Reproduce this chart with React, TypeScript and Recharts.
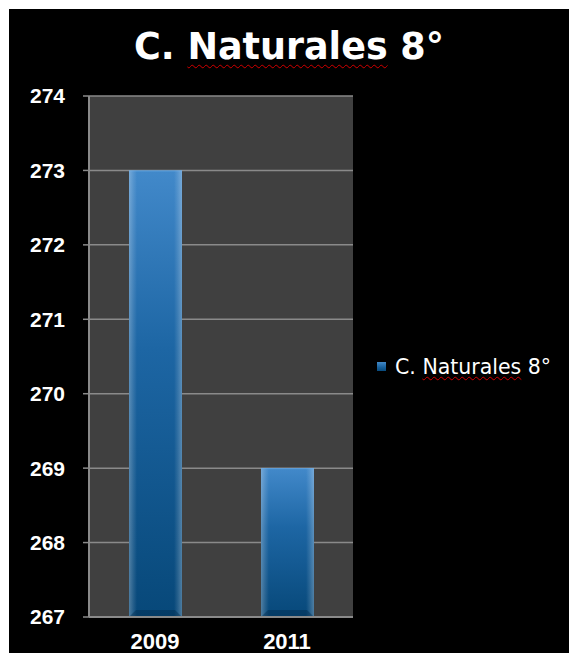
import { Bar, BarChart, CartesianGrid, Legend, XAxis, YAxis } from "recharts";

const years = ["2009", "2011"];
const scores = [273, 269];
const yTicks = [267, 268, 269, 270, 271, 272, 273, 274];
const seriesName = "C. Naturales 8°";
// words the spell checker flagged in the original screenshot
const flaggedWords = ["Naturales"];

const data = years.map((year, i) => ({ year, score: scores[i] }));

const CHART_W = 560;
const CHART_H = 644;
const AXIS_GRAY = "#8a8a8a";

const squiggle = (offset: number) => ({
  textDecorationLine: "underline",
  textDecorationStyle: "wavy" as const,
  textDecorationColor: "#d40000",
  textDecorationThickness: "1px",
  textUnderlineOffset: `${offset}px`,
});

function SpellText({ text, offset }: { text: string; offset: number }) {
  const words = text.split(" ");
  return (
    <>
      {words.map((w, i) => (
        <span key={i}>
          <span style={flaggedWords.includes(w) ? squiggle(offset) : undefined}>{w}</span>
          {i < words.length - 1 ? " " : ""}
        </span>
      ))}
    </>
  );
}

function GlassBar(props: any) {
  const { x, y, width, height } = props;
  if (!height || height <= 0) return null;
  const b = Math.min(7, width / 7);
  const bottom = y + height;
  return (
    <g>
      <rect x={x} y={y} width={width} height={height} fill="url(#barFill)" />
      <rect x={x} y={y} width={width} height={height} fill="url(#barSheen)" />
      <path
        d={`M${x + b},${bottom - b} L${x + width - b},${bottom - b} L${x + width},${bottom} L${x},${bottom} Z`}
        fill="#022c4e"
        opacity={0.45}
      />
      <line x1={x} x2={x + width} y1={y + 0.5} y2={y + 0.5} stroke="#6fb0ec" strokeOpacity={0.6} />
    </g>
  );
}

function LegendBox({ payload }: any) {
  return (
    <div style={{ display: "flex", alignItems: "flex-start" }}>
      {(payload || []).map((entry: any) => (
        <div key={entry.value} style={{ display: "flex", alignItems: "flex-start" }}>
          <span
            style={{
              width: 9,
              height: 9,
              marginTop: 6,
              marginRight: 9,
              background: "linear-gradient(180deg, #4389c8 0%, #17609c 60%, #084a7c 100%)",
              flexShrink: 0,
            }}
          />
          <span
            style={{
              fontFamily: "'DejaVu Sans', sans-serif",
              fontSize: 20.5,
              lineHeight: "22px",
              color: "#ffffff",
              whiteSpace: "nowrap",
            }}
          >
            <SpellText text={entry.value} offset={2} />
          </span>
        </div>
      ))}
    </div>
  );
}

export default function App() {
  return (
    <div
      style={{
        position: "absolute",
        left: 9,
        top: 9,
        width: CHART_W,
        height: CHART_H,
        background: "#000000",
        overflow: "hidden",
      }}
    >
      <BarChart
        width={CHART_W}
        height={CHART_H}
        data={data}
        margin={{ top: 87, right: 216, bottom: 0, left: 0 }}
        barSize={53}
      >
        <defs>
          <linearGradient id="barFill" x1="0" y1="0" x2="0" y2="1">
            <stop offset="0%" stopColor="#4289ca" />
            <stop offset="40%" stopColor="#1d66a4" />
            <stop offset="100%" stopColor="#074879" />
          </linearGradient>
          <linearGradient id="barSheen" x1="0" y1="0" x2="1" y2="0">
            <stop offset="0%" stopColor="#ffffff" stopOpacity={0.28} />
            <stop offset="8%" stopColor="#ffffff" stopOpacity={0.12} />
            <stop offset="15%" stopColor="#ffffff" stopOpacity={0} />
            <stop offset="85%" stopColor="#ffffff" stopOpacity={0} />
            <stop offset="92%" stopColor="#ffffff" stopOpacity={0.12} />
            <stop offset="100%" stopColor="#ffffff" stopOpacity={0.28} />
          </linearGradient>
        </defs>
        <CartesianGrid vertical={false} fill="#404040" stroke={AXIS_GRAY} strokeWidth={1.5} />
        {/* Excel puts the x tick marks between categories, not under them */}
        <XAxis
          xAxisId="edges"
          type="number"
          domain={[0, years.length]}
          ticks={years.map((_, i) => i).concat(years.length)}
          tick={false}
          axisLine={false}
          tickLine={{ stroke: AXIS_GRAY, strokeWidth: 1.5 }}
          tickSize={7}
          height={0}
          orientation="bottom"
        />
        <XAxis
          dataKey="year"
          tickLine={false}
          axisLine={{ stroke: AXIS_GRAY, strokeWidth: 2 }}
          tickMargin={16}
          tickSize={0}
          height={36}
          tick={{ fill: "#ffffff", fontSize: 22, fontWeight: 700, fontFamily: "'Liberation Sans', Arial, sans-serif" }}
        />
        <YAxis
          domain={[267, 274]}
          ticks={yTicks}
          interval={0}
          width={80}
          tickSize={6}
          tickMargin={18}
          axisLine={{ stroke: AXIS_GRAY, strokeWidth: 2 }}
          tickLine={{ stroke: AXIS_GRAY, strokeWidth: 1.5 }}
          tick={{ fill: "#ffffff", fontSize: 21, fontWeight: 700, fontFamily: "'Liberation Sans', Arial, sans-serif" }}
        />
        <Legend
          layout="vertical"
          align="center"
          verticalAlign="middle"
          wrapperStyle={{ left: 368, top: 347, width: 192 }}
          content={<LegendBox />}
        />
        <Bar dataKey="score" name={seriesName} shape={<GlassBar />} isAnimationActive={false} />
      </BarChart>
      <div
        style={{
          position: "absolute",
          top: 18,
          left: 0,
          width: CHART_W,
          textAlign: "center",
          fontFamily: "'DejaVu Sans', sans-serif",
          fontWeight: 700,
          fontSize: 36.5,
          lineHeight: "40px",
          color: "#ffffff",
          whiteSpace: "nowrap",
        }}
      >
        <SpellText text={seriesName} offset={5} />
      </div>
    </div>
  );
}
